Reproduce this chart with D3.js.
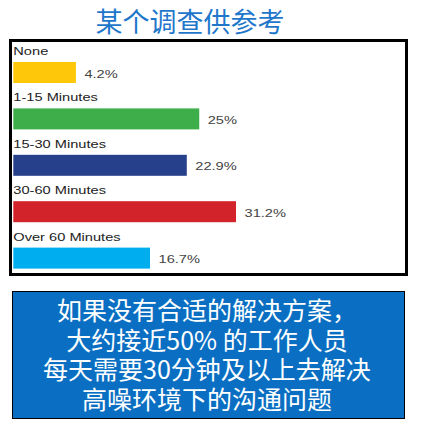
<!DOCTYPE html>
<html>
<head>
<meta charset="utf-8">
<script src="https://cdn.jsdelivr.net/npm/d3@7"></script>
<style>
  html, body { margin: 0; padding: 0; background: #fff; }
  svg { display: block; }
</style>
</head>
<body>
<svg id="chart" width="426" height="436"></svg>
<script>
// survey data
var categories = ['None', '1-15 Minutes', '15-30 Minutes', '30-60 Minutes', 'Over 60 Minutes'];
var percents = [4.2, 25, 22.9, 31.2, 16.7];
var valueLabels = ['4.2%', '25%', '22.9%', '31.2%', '16.7%'];
var barColors = ['#FFC709', '#3DAE49', '#26408B', '#D2232A', '#00AEEF'];
var titleText = '某个调查供参考';
var noteLines = ['如果没有合适的解决方案，', '大约接近50% 的工作人员', '每天需要30分钟及以上去解决', '高噪环境下的沟通问题'];

var svg = d3.select('#chart');
var cjk = '"Noto Sans CJK SC", "Noto Sans", sans-serif';
var latin = '"Liberation Sans", Arial, Helvetica, sans-serif';

// title
svg.append('text')
	.attr('x', 190)
	.attr('y', 31.5)
	.attr('text-anchor', 'middle')
	.attr('font-family', cjk)
	.attr('font-size', 27)
	.attr('fill', '#1F77CC')
	.text(titleText);

// frame round the chart
svg.append('rect')
	.attr('x', 10.5)
	.attr('y', 40.5)
	.attr('width', 396)
	.attr('height', 234)
	.attr('fill', '#fff')
	.attr('stroke', '#000')
	.attr('stroke-width', 3);

/**
 * Scales
 */
var y = d3.scaleBand().domain(categories).range([44, 276]).padding(0);
var x = d3.scaleLinear().domain([0, 31.2]).range([51, 236]);
var barLeft = 13.3;
var stretch = 1.33;

var rows = svg.append('g').selectAll('g')
	.data(categories)
	.enter().append('g')
	.attr('transform', function(d) { return 'translate(0,' + y(d) + ')'; });

rows.append('text')
	.attr('transform', 'translate(' + barLeft + ',11) scale(' + stretch + ',1)')
	.attr('font-family', latin)
	.attr('font-size', 11)
	.attr('fill', '#222')
	.text(function(d) { return d; });

rows.append('rect')
	.attr('x', barLeft)
	.attr('y', 18)
	.attr('height', 21)
	.attr('width', function(d, i) { return x(percents[i]) - barLeft; })
	.attr('fill', function(d, i) { return barColors[i]; });

rows.append('text')
	.attr('transform', function(d, i) { return 'translate(' + (x(percents[i]) + 8.5) + ',33.5) scale(' + stretch + ',1)'; })
	.attr('font-family', latin)
	.attr('font-size', 11)
	.attr('fill', '#444')
	.text(function(d, i) { return valueLabels[i]; });

// blue note box
svg.append('rect')
	.attr('x', 12.5)
	.attr('y', 291.5)
	.attr('width', 392)
	.attr('height', 127)
	.attr('fill', '#0A6FC2')
	.attr('stroke', '#000')
	.attr('stroke-width', 1);

var lineY = d3.scaleLinear().domain([0, 3]).range([320, 409]);

svg.append('g').selectAll('text')
	.data(noteLines)
	.enter().append('text')
	.attr('x', 207)
	.attr('y', function(d, i) { return lineY(i); })
	.attr('text-anchor', 'middle')
	.attr('font-family', cjk)
	.attr('font-size', 25)
	.attr('fill', '#fff')
	.text(function(d) { return d; });
</script>
</body>
</html>
